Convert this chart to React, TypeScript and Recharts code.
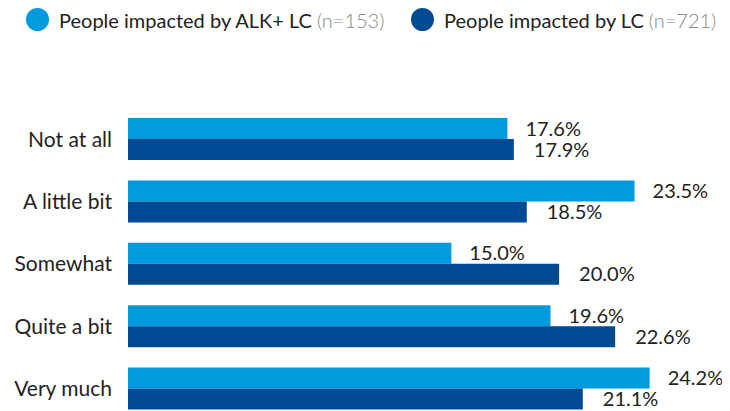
import React from 'react';
import { BarChart, Bar, XAxis, YAxis, LabelList } from 'recharts';

const categories = ['Not at all', 'A little bit', 'Somewhat', 'Quite a bit', 'Very much'];
const alkValues = [17.6, 23.5, 15.0, 19.6, 24.2];
const lcValues = [17.9, 18.5, 20.0, 22.6, 21.1];

const seriesNames = ['People impacted by ALK+ LC', 'People impacted by LC'];
const seriesCounts = ['(n=153)', '(n=721)'];
const COLORS = ['#009ADE', '#004A93'];

const data = categories.map((name, i) => ({
    name,
    alk: alkValues[i],
    lc: lcValues[i],
}));

const FONT = 'Lato, "Noto Sans", sans-serif';

const fmt = (v: any) => `${Number(v).toFixed(1)}%`;

const LegendRow: React.FC = () => (
    <div style={{ position: 'absolute', left: 0, top: 0, height: 24, fontFamily: FONT, fontSize: 20, color: '#222' }}>
        {seriesNames.map((n, i) => (
            <div key={n} style={{ position: 'absolute', top: 0, left: i === 0 ? 18 : 403, display: 'flex', alignItems: 'center', whiteSpace: 'nowrap', height: 23 }}>
                <span style={{ width: 23, height: 23, borderRadius: '50%', background: COLORS[i], display: 'inline-block', marginRight: 10 }} />
                <span>{n}</span>
                <span style={{ color: '#888', fontWeight: 300, marginLeft: 5 }}>{seriesCounts[i]}</span>
            </div>
        ))}
    </div>
);

const App: React.FC = () => (
    <div style={{ position: 'relative', width: 722, height: 420 }}>
        <LegendRow />
        <BarChart
            width={722}
            height={420}
            data={data}
            layout="vertical"
            margin={{ top: 100, right: 20, bottom: 8, left: 0 }}
            barCategoryGap={10}
            barGap={0}
        >
            <XAxis type="number" domain={[0, 27]} hide />
            <YAxis
                type="category"
                dataKey="name"
                width={120}
                axisLine={false}
                tickLine={false}
                tickMargin={10}
                tick={{ fill: '#222', fontSize: 21, fontFamily: FONT }}
            />
            <Bar dataKey="alk" fill={COLORS[0]} isAnimationActive={false}>
                <LabelList dataKey="alk" position="right" offset={18} formatter={fmt} fill="#222" fontSize={20} fontFamily={FONT} />
            </Bar>
            <Bar dataKey="lc" fill={COLORS[1]} isAnimationActive={false}>
                <LabelList dataKey="lc" position="right" offset={20} formatter={fmt} fill="#222" fontSize={20} fontFamily={FONT} />
            </Bar>
        </BarChart>
    </div>
);

export default App;
